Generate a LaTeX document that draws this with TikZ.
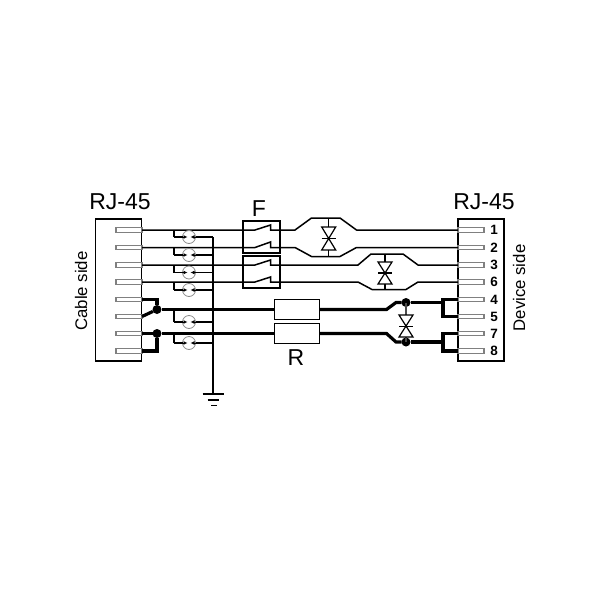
\documentclass[tikz,border=0pt]{standalone}
\usepackage{fontspec}
\setmainfont{Liberation Sans}
\usetikzlibrary{arrows.meta}

\begin{document}
\begin{tikzpicture}[x=1pt,y=-1pt]
\tikzstyle{every node}=[inner sep=0pt,outer sep=0pt]
\tikzstyle{conn}=[rectangle,draw,line width=1.4pt,fill=white,minimum width=46pt,minimum height=142pt]
\tikzstyle{pin}=[rectangle,draw=black!50,line width=1.1pt,fill=white,minimum width=26pt,minimum height=4.5pt]
\tikzstyle{fusebox}=[rectangle,draw,line width=1.4pt,minimum width=37pt,minimum height=32pt]
\tikzstyle{resbox}=[rectangle,draw,line width=1.4pt,fill=white,minimum width=45pt,minimum height=20pt]
\tikzstyle{tube}=[circle,draw=black!45,line width=0.8pt,fill=white,minimum size=13pt]
\tikzstyle{joint}=[circle,fill=black,minimum size=9pt]
\tikzstyle{wire}=[line width=1.5pt]
\tikzstyle{thick wire}=[line width=3.2pt]
\tikzstyle{big}=[font=\fontsize{23}{23}\selectfont]
\tikzstyle{side}=[font=\fontsize{16.8}{17}\selectfont,rotate=90]
\tikzstyle{pinno}=[font=\bfseries\fontsize{13.5}{13.5}\selectfont]
\useasboundingbox (0,0) rectangle (600,600);

\node[conn] (cable) at (118.7,290) {};
\node[conn] (device) at (481,290) {};
\foreach \n/\y in {1/230,2/247.5,3/265,6/282,4/299.5,5/316.5,7/333.5,8/351} {
  \node[pin] (lp\n) at (129,\y) {};
  \node[pin] (rp\n) at (471,\y) {};
  \node[pinno] (no\n) at (494,\y) {\n};
}
\node[big] (ltitle) at (120,202) {RJ-45};
\node[big] (rtitle) at (484,202) {RJ-45};
\node[side] (cside) at (81,291) {Cable side};
\node[side] (dside) at (519,288) {Device side};
\node[big] (flabel) at (259,209) {F};
\node[big] (rlabel) at (296,358) {R};

\node[fusebox] (fa) at (261.3,237) {};
\node[fusebox] (fb) at (261.3,272) {};

% signal pairs
\draw[wire] (lp1.east) -- (255,230) -- (270.5,225) -- (270.5,230) -- (295,230) -- (311.5,218) -- (340,218) -- (356.5,230) -- (rp1.west);
\draw[wire] (lp2.east) -- (255,247.5) -- (270.5,242) -- (270.5,247.5) -- (295,247.5) -- (311.5,256.5) -- (340,256.5) -- (356.5,247.5) -- (rp2.west);
\draw[wire] (lp3.east) -- (255,265) -- (270.5,260) -- (270.5,265) -- (358,265) -- (371,254) -- (403,254) -- (418,265) -- (rp3.west);
\draw[wire] (lp6.east) -- (255,282) -- (270.5,277) -- (270.5,282) -- (358,282) -- (372,289.5) -- (406,289.5) -- (418,282) -- (rp6.west);

% power pairs
\node[joint] (ja) at (157,309.5) {};
\node[joint] (jb) at (157,333.5) {};
\node[joint] (jc) at (406,302.5) {};
\node[joint] (jd) at (406,342) {};
\node[resbox] (ra) at (296.8,309.5) {};
\node[resbox] (rb) at (296.8,333.5) {};
\draw[thick wire] (lp4.east) -| (ja);
\draw[thick wire] (lp5.east) -- (ja);
\draw[thick wire] (ja) -- (ra);
\draw[thick wire] (ra.east) -- (386.5,309.5) -- (396,302.5) -- (jc);
\draw[thick wire] (lp7.east) -- (jb);
\draw[thick wire] (lp8.east) -| (jb);
\draw[thick wire] (jb) -- (rb);
\draw[thick wire] (rb.east) -- (386.5,333.5) -- (396,342) -- (jd);
\coordinate (ba) at (443,302.5);
\coordinate (bb) at (443,342);
\draw[thick wire] (jc) -- (ba);
\draw[thick wire] (jd) -- (bb);
\draw[thick wire] (rp4.west) -| (ba) |- (rp5.west);
\draw[thick wire] (rp7.west) -| (bb) |- (rp8.west);

% ground bus
\coordinate (gnd) at (213,394);
\draw[wire] (213,237) -- (gnd);
\draw[line width=1.6pt] (202.5,394) -- (224,394);
\draw[line width=1.6pt] (207.5,400) -- (219,400);
\draw[line width=1.8pt] (211,405.5) -- (216.5,405.5);

% gas tubes
\foreach \t/\y in {ta/237,tb/255,tc/272.5,td/290,te/322,tf/343} {
  \node[tube] (\t) at (189,\y) {};
  \draw[wire] (174,\y) |- (\t.west);
  \draw[wire] (174,\y) -- (174,\y-7);
  \draw[wire] (\t.east) -- (213,\y);
  \draw[line width=0.9pt,-{Latex[length=4pt,width=4pt]}] (\t.west) -- ++(5,0);
  \draw[line width=0.9pt,-{Latex[length=4pt,width=4pt]}] (\t.east) -- ++(-5,0);
}
\draw[wire] (174,322) -- (174,309.5);
\draw[wire] (174,343) -- (174,333.5);

% suppressors
\foreach \s/\x/\ya/\yb/\yc/\yd/\ye/\col in {sa/328.7/218/227/238.7/250/256.5/black,sb/385/254/262/273/284/289.5/black,sc/406/302.5/315/326.5/337/342/black!70} {
  \coordinate (\s) at (\x,\yc);
  \draw[line width=1.2pt,draw=\col] (\x,\ya) -- (\x,\yb) (\x,\yd) -- (\x,\ye);
  \draw[line width=1.2pt] (\x-7,\yb) -- (\x+7,\yb) -- (\x-7,\yd) -- (\x+7,\yd) -- cycle;
  \draw[line width=1.2pt] (\x-7,\yc) -- (\x+7,\yc);
}
\end{tikzpicture}
\end{document}
